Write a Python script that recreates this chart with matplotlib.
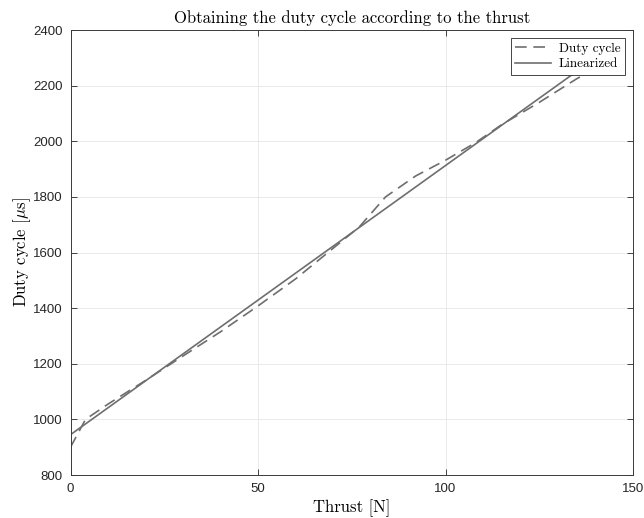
import numpy as np
import matplotlib
matplotlib.use('Agg')
import matplotlib.pyplot as plt

# Datos
thrust = [0, 4, 10, 20, 30, 40, 50, 60, 70, 77, 84, 92, 100, 108, 115, 125, 135, 140]
duty = [900, 1000, 1055, 1140, 1228, 1315, 1408, 1505, 1615, 1692, 1800, 1875, 1932, 1995, 2060, 2140, 2225, 2262]

# Recta linealizada
lin_x = [0, 140]
lin_y = [945, 2300]

x_ticks = [0, 50, 100, 150]
y_ticks = [800, 1000, 1200, 1400, 1600, 1800, 2000, 2200, 2400]

plt.rcParams['mathtext.fontset'] = 'cm'
serif = 'cmr10'
gris = '#6e6e6e'

fig = plt.figure(figsize=(6.44, 5.18), dpi=100)
ax = fig.add_axes([0.1095, 0.083, 0.8735, 0.859])

ax.plot(thrust, duty, linestyle=(0, (7, 4)), color=gris, lw=1.2, label='Duty cycle')
ax.plot(lin_x, lin_y, linestyle='-', color=gris, lw=1.2, label='Linearized')

ax.set_xlim(0, 150)
ax.set_ylim(800, 2400)
ax.set_xticks(x_ticks)
ax.set_yticks(y_ticks)
ax.grid(True, color='#e6e6e6', lw=0.6)
ax.tick_params(direction='in', top=True, right=True, length=4, width=0.6,
               colors='#262626', labelsize=9.5, pad=5.5)
for lab in ax.get_xticklabels() + ax.get_yticklabels():
    lab.set_fontfamily('Liberation Sans')
for s in ax.spines.values():
    s.set_color('#3a3a3a')
    s.set_linewidth(0.7)

ax.set_title('Obtaining the duty cycle according to the thrust', fontfamily=serif,
             fontsize=12, pad=5)
ax.set_xlabel('Thrust [N]', fontfamily=serif, fontsize=12, labelpad=3)
ax.set_ylabel(r'Duty cycle [$\mu$s]', fontfamily=serif, fontsize=12)
ax.yaxis.set_label_coords(-0.067, 0.5)

leg = ax.legend(loc='upper right', prop={'family': serif, 'size': 9.5}, fancybox=False,
                edgecolor='#262626', framealpha=1, handlelength=2.7,
                borderaxespad=0.6, borderpad=0.35, labelspacing=0.25, handletextpad=0.6)
leg.get_frame().set_linewidth(0.6)

plt.savefig('out.png', dpi=100)
plt.close()
